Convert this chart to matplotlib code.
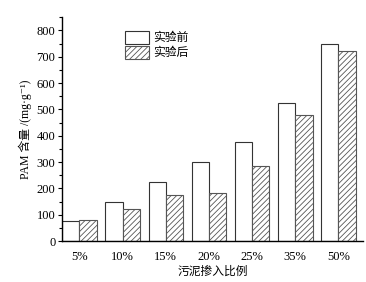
import matplotlib
matplotlib.use("Agg")
import matplotlib.pyplot as plt
import numpy as np
from matplotlib.ticker import MultipleLocator

plt.rcParams['font.family'] = ['Liberation Serif', 'Noto Sans CJK SC', 'DejaVu Serif']
plt.rcParams['hatch.linewidth'] = 0.6

# data
categories = ['5%', '10%', '15%', '20%', '25%', '35%', '50%']
before = [75, 150, 225, 300, 375, 525, 750]
after = [82, 120, 175, 183, 287, 480, 720]

fig = plt.figure(figsize=(3.66, 2.82), dpi=100)
ax = fig.add_axes([0.170, 0.145, 0.823, 0.794])

x = np.arange(len(categories))
w = 0.4
ax.bar(x - w / 2, before, w, facecolor='white', edgecolor='#333333', linewidth=0.8, label='实验前')
ax.bar(x + w / 2, after, w, facecolor='white', edgecolor='#555555', linewidth=0.8,
       hatch='//////', label='实验后')

ax.set_xlim(-0.4, 6.58)
ax.set_ylim(0, 850)
ax.set_xticks(x)
ax.set_xticklabels(categories)
ax.yaxis.set_major_locator(MultipleLocator(100))
ax.yaxis.set_minor_locator(MultipleLocator(50))
ax.tick_params(axis='x', length=0, labelsize=9, pad=7)
ax.tick_params(axis='y', which='major', length=3, width=0.8, labelsize=9, pad=2)
ax.tick_params(axis='y', which='minor', length=2, width=0.8)

ax.spines['top'].set_visible(False)
ax.spines['right'].set_visible(False)
ax.spines['left'].set_linewidth(1.0)
ax.spines['bottom'].set_linewidth(1.0)

ax.set_xlabel('污泥掺入比例', fontsize=8.5, labelpad=2)
ax.set_ylabel('PAM 含量 /(mg·g⁻¹)', fontsize=8.5, labelpad=3)

ax.legend(loc='upper left', bbox_to_anchor=(0.18, 0.975), frameon=False, fontsize=8.5,
          handlelength=2.1, handleheight=1.3, handletextpad=0.3, labelspacing=0.1,
          borderaxespad=0.3)

fig.savefig('out.png', dpi=100)
